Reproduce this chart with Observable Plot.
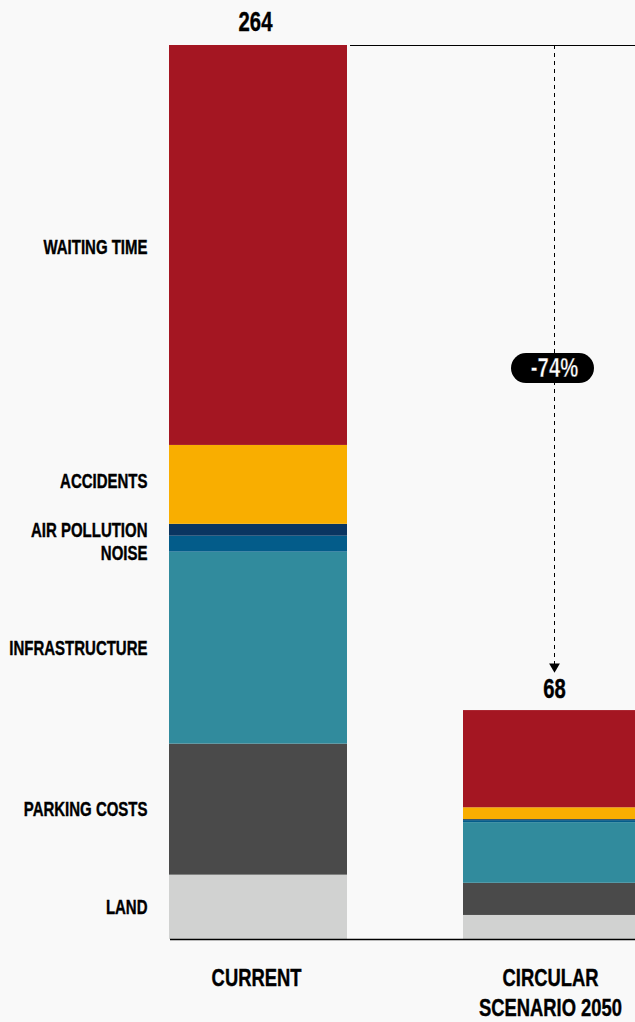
<!DOCTYPE html>
<html><head><meta charset="utf-8">
<script src="https://cdn.jsdelivr.net/npm/d3@7"></script>
<script src="https://cdn.jsdelivr.net/npm/@observablehq/plot@0.6"></script>
<style>
html,body{margin:0;padding:0;background:#f9f9f9;overflow:hidden;}
#chart svg{display:block;}
</style></head><body><div id="chart"></div>
<script>
// ---- data ----
const scenarios = ["CURRENT", "CIRCULAR SCENARIO 2050"];
const categories = ["LAND", "PARKING COSTS", "INFRASTRUCTURE", "NOISE", "AIR POLLUTION", "ACCIDENTS", "WAITING TIME"];
const currentValues  = [19.0, 38.7, 56.7, 4.7, 3.5, 23.3, 118.1];
const circularValues = [7.1, 9.5, 17.9, 0.6, 0.3, 3.5, 28.7];
const colors = ["#d1d2d1", "#4a4a4a", "#318b9d", "#035c8a", "#0a3561", "#f9ae00", "#a41622"];

// ---- derived tables ----
const seriesValues = [currentValues, circularValues];
const data = [];
scenarios.forEach((s, i) => categories.forEach((c, j) => data.push({scenario: s, category: c, value: seriesValues[i][j]})));
const totals = scenarios.map((s, i) => ({scenario: s, total: d3.sum(seriesValues[i])}));
const maxTotal = totals[0].total;
const change = totals[1].total / totals[0].total - 1;
const cum = d3.cumsum(currentValues);
const labels = categories.map((c, j) => ({scenario: scenarios[0], category: c, mid: cum[j] - currentValues[j] / 2}));
const nudge = {"WAITING TIME": 2, "ACCIDENTS": -3, "NOISE": 9};
const midValue = (totals[0].total + totals[1].total) / 2;

const font = '"Liberation Sans", Arial, Helvetica, sans-serif';

const chart = Plot.plot({
  width: 635, height: 1022,
  marginTop: 45, marginBottom: 83, marginLeft: 170, marginRight: 0,
  style: {background: "#f9f9f9", fontFamily: font, overflow: "hidden", color: "#000"},
  x: {domain: scenarios, range: [169, 641], paddingInner: 0.3946, paddingOuter: 0, axis: null},
  y: {domain: [0, maxTotal], axis: null},
  color: {domain: categories, range: colors},
  marks: [
    Plot.barY(data, {x: "scenario", y: "value", fill: "category"}),
    Plot.ruleY([0], {stroke: "#000", strokeWidth: 1.5}),
    Plot.ruleY([maxTotal], {stroke: "#000", strokeWidth: 1, insetLeft: 180}),
    // dashed arrow
    Plot.ruleX([totals[1]], {x: "scenario", y1: maxTotal, y2: "total", dx: 2, insetBottom: 44, stroke: "#000", strokeDasharray: "4,4", strokeWidth: 1}),
    Plot.dot([totals[1]], {x: "scenario", y: "total", dx: 2, dy: -44, symbol: "triangle", rotate: 180, r: 4, fill: "#000", stroke: null}),
    // pill
    Plot.ruleY([midValue], {dy: -10, insetLeft: 356, insetRight: 56, stroke: "#000", strokeWidth: 30, strokeLinecap: "round"}),
    Plot.text([midValue], {y: d => d, x: () => scenarios[1], dx: 2, dy: -10, text: () => d3.format(".0%")(change).replace("−", "-"), fill: "#fff", fontSize: 27, fontWeight: "bold"}),
    // totals
    Plot.text(totals.slice(0, 1), {x: "scenario", y: "total", text: d => d3.format(".0f")(d.total), dy: -23, dx: -3, fontSize: 27, fontWeight: "bold", fill: "#000"}),
    Plot.text(totals.slice(1), {x: "scenario", y: "total", text: d => d3.format(".0f")(d.total), dy: -21, dx: 2, fontSize: 27, fontWeight: "bold", fill: "#000"}),
    // category labels
    ...categories.map(c => Plot.text(labels.filter(d => d.category === c), {x: "scenario", y: "mid", text: "category", textAnchor: "end", dx: -111, dy: nudge[c] || 0, fontSize: 20, fontWeight: "bold", fill: "#000"})),
    // x axis
    Plot.axisX({tickSize: 0, tickPadding: 25, dx: -2, fontSize: 24.5, fontWeight: "bold", lineHeight: 1.22, label: null,
      tickFormat: d => d === "CIRCULAR SCENARIO 2050" ? "CIRCULAR\nSCENARIO 2050" : d})
  ]
});

// condense the Helvetica-like face horizontally (Helvetica Condensed look)
const SX = 0.75;
chart.querySelectorAll("text").forEach(t => {
  const tr = t.getAttribute("transform");
  if (tr) t.setAttribute("transform", tr + ` scale(${SX},1)`);
  else {
    const x = +t.getAttribute("x") || 0, y = +t.getAttribute("y") || 0;
    t.removeAttribute("x"); t.removeAttribute("y");
    t.setAttribute("transform", `translate(${x},${y}) scale(${SX},1)`);
  }
  t.style.stroke = "currentColor";
  t.style.strokeWidth = "0.4px";
});
document.getElementById("chart").append(chart);
</script></body></html>
